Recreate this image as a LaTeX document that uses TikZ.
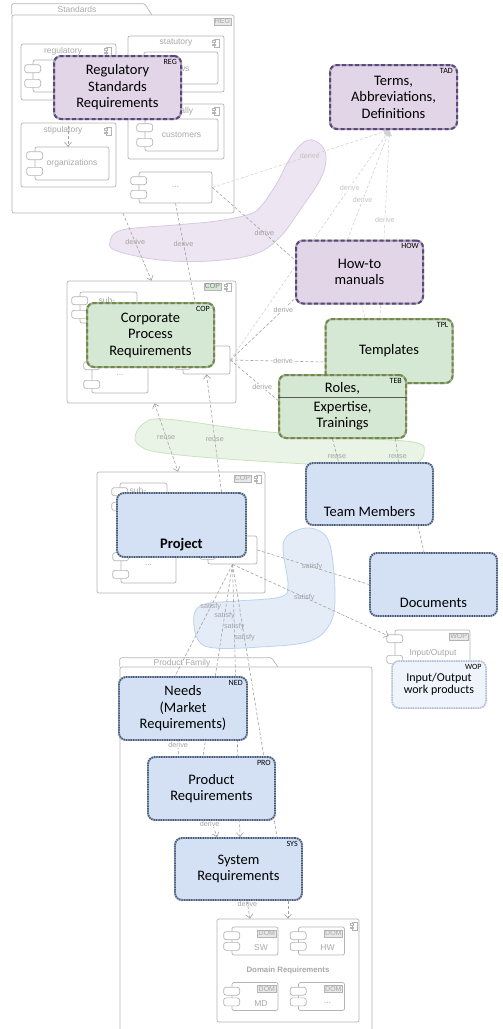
\documentclass[tikz,border=0pt]{standalone}
\usepackage{fontspec}
\setmainfont{Carlito}
\newfontfamily\grayfont{Liberation Sans}
\usetikzlibrary{arrows.meta,positioning}

\definecolor{structgray}{HTML}{B4B4B4}
\definecolor{textgray}{HTML}{A8A8A8}
\definecolor{taggray}{HTML}{E8E8E8}
\definecolor{linkgray}{HTML}{A2A2A2}
\definecolor{lightlinkgray}{HTML}{D2D2D2}
\definecolor{undergray}{HTML}{A6A6A6}
\definecolor{purpfill}{HTML}{E1D5E7}
\definecolor{purpdash}{HTML}{5B4586}
\definecolor{greenfill}{HTML}{D5E8D4}
\definecolor{greendash}{HTML}{6F8E3D}
\definecolor{bluefill}{HTML}{D4E1F5}
\definecolor{bluedot}{HTML}{395A8E}
\definecolor{wopfill}{HTML}{EFF4FC}
\definecolor{wopdot}{HTML}{A9BDE2}
\definecolor{purpblobfill}{HTML}{EDE5F2}
\definecolor{purpblobline}{HTML}{D6C9E2}
\definecolor{greenblobfill}{HTML}{EAF4E6}
\definecolor{greenblobline}{HTML}{C8E2BC}
\definecolor{blueblobfill}{HTML}{E4ECF8}
\definecolor{blueblobline}{HTML}{BCD2EF}

\newcommand\reqfont{\fontsize{14.5}{16.5}\selectfont}
\newcommand\tagfont{\fontsize{8}{9}\selectfont}
\newcommand\grayfnt{\grayfont\fontsize{8.5}{10}\selectfont}
\newcommand\lblfont{\grayfont\fontsize{7.2}{8}\selectfont}
\newcommand\tdots{...}

\pgfdeclarelayer{blobs}
\pgfdeclarelayer{struct}
\pgfdeclarelayer{links}
\pgfsetlayers{blobs,struct,links,main}

\tikzset{
  frame/.style={draw=structgray, fill=white, line width=0.7pt, rounded corners=2pt,
    inner sep=0pt, font=\grayfnt, text=textgray},
  frameline/.style={draw=structgray, line width=0.7pt, rounded corners=1.5pt},
  comptab/.style={draw=structgray, fill=white, line width=0.7pt, rounded corners=2.5pt,
    minimum width=16pt, minimum height=8pt, inner sep=0pt},
  graytext/.style={font=\grayfnt, text=textgray, inner sep=0pt},
  graytag/.style={draw=structgray, fill=taggray, line width=0.6pt,
    font=\grayfont\fontsize{7}{8}\selectfont, text=textgray, inner sep=1pt},
  greentag/.style={graytag, fill=greenfill, text=gray},
  tagtext/.style={font=\tagfont, anchor=north east, inner sep=1pt, xshift=-4pt, yshift=-3pt},
  req/.style={rounded corners=7pt, align=center, inner sep=2pt, font=\reqfont,
    line width=2pt, draw=undergray, minimum width=127pt, minimum height=63pt},
  purplereq/.style={req, fill=purpfill,
    postaction={draw=purpdash, line width=2pt, dash pattern=on 4pt off 2.5pt}},
  greenreq/.style={req, fill=greenfill,
    postaction={draw=greendash, line width=2pt, dash pattern=on 4pt off 2.5pt}},
  bluereq/.style={req, fill=bluefill, line width=1.8pt,
    postaction={draw=bluedot, line width=1.8pt, dash pattern=on 1.2pt off 1.2pt}},
  wopreq/.style={req, fill=wopfill, draw=gray!25, line width=1.5pt,
    font=\fontsize{12}{12.5}\selectfont,
    postaction={draw=wopdot, line width=1.5pt, dash pattern=on 1.2pt off 1.2pt}},
  bottomtext/.style={anchor=base, yshift=9pt, inner sep=0pt, font=\reqfont},
  link/.style={draw=linkgray, line width=0.6pt, dash pattern=on 3pt off 2pt},
  lightlink/.style={link, draw=lightlinkgray},
  tri/.style={-{Triangle[length=6pt,width=5pt]}},
  lbl/.style={font=\lblfont, text=linkgray, inner sep=0.5pt},
  lblw/.style={lbl, fill=white},
  lbllight/.style={lbl, text=lightlinkgray!80!gray, fill=white},
  compicon/.pic={
    \draw[structgray, line width=0.5pt, fill=white] (-2,-4) rectangle (3.5,4);
    \draw[structgray, line width=0.5pt, fill=white] (-3.5,-2.6) rectangle (-0.5,-0.8);
    \draw[structgray, line width=0.5pt, fill=white] (-3.5,0.8) rectangle (-0.5,2.6);
  }
}

% two connector tabs on the left edge of a component
\newcommand{\comptabs}[1]{%
  \node[comptab] at ([yshift=-9pt]#1.north west) {};
  \node[comptab] at ([yshift=9pt]#1.south west) {};}

\begin{document}
\begin{tikzpicture}[x=1pt, y=-1pt, >={Straight Barb[length=4pt,width=7pt]}]
\useasboundingbox (0,0) rectangle (503,1029);

%% grey structure
\begin{pgfonlayer}{struct}
  % Standards package
  \node[frame, minimum width=222pt, minimum height=198pt] (stdbody) at (123,114) {};
  \draw[frameline] (stdbody.north west) -- ++(0,-11) -- ++(133,0) -- ++(7,11);
  \node[graytext] (stdtitle) at (77,9.5) {Standards};
  \node[graytag, anchor=north east] at ([shift={(-3pt,-3pt)}]stdbody.north east) {REG};

  \node[frame, minimum width=95pt, minimum height=56pt] (regcomp) at (68.5,72) {};
  \node[graytext] at (63,51) {regulatory};
  \pic at (108,51) {compicon};
  \node[frame, minimum width=72pt, minimum height=32pt] (regin) at (69,76) {};
  \comptabs{regin}

  \node[frame, minimum width=96pt, minimum height=56pt] (statcomp) at (176,64) {};
  \node[graytext] at (176,43) {statutory};
  \pic at (216,43) {compicon};
  \node[frame, minimum width=74pt, minimum height=32pt] (lawcomp) at (181,68) {laws};
  \comptabs{lawcomp}

  \node[frame, minimum width=96pt, minimum height=55pt] (gencomp) at (176,131.5) {};
  \node[graytext] at (176,111) {generally};
  \pic at (216,111) {compicon};
  \node[frame, minimum width=73pt, minimum height=32pt] (custcomp) at (181.5,135) {customers};
  \comptabs{custcomp}

  \node[frame, minimum width=95pt, minimum height=64pt] (stipcomp) at (68.5,155) {};
  \node[graytext] (stiptitle) at (63,130) {stipulatory};
  \pic at (108,131) {compicon};
  \node[frame, minimum width=74pt, minimum height=33pt] (orgcomp) at (72,163.5) {organizations};
  \comptabs{orgcomp}

  \node[frame, minimum width=73pt, minimum height=31pt] (dotscomp) at (175.5,187.5) {\tdots};
  \comptabs{dotscomp}

  % corporate process
  \node[frame, minimum width=169pt, minimum height=122pt] (copreg) at (151.5,342) {};
  \node[greentag, anchor=north east] at ([shift={(-15pt,-2pt)}]copreg.north east) {COP};
  \pic at (228,287) {compicon};
  \node[frame, minimum width=57pt, minimum height=31pt] (copsub) at (108.5,307.5) {};
  \node[graytext] at (107,300.5) {sub-};
  \comptabs{copsub}
  \node[frame, minimum width=56pt, minimum height=36pt] (copdots) at (120,375) {\tdots};
  \comptabs{copdots}
  \node[frame, minimum width=47pt, minimum height=28pt] (coprc) at (206.5,360) {};
  \comptabs{coprc}

  % project
  \node[frame, minimum width=168pt, minimum height=121pt] (projreg) at (181,532.5) {};
  \node[graytag, anchor=north east] at ([shift={(-14pt,-3pt)}]projreg.north east) {COP};
  \pic at (258,479) {compicon};
  \node[frame, minimum width=47pt, minimum height=32pt] (projsub) at (143.5,499) {};
  \node[graytext] at (138,490.5) {sub-};
  \comptabs{projsub}
  \node[frame, minimum width=55pt, minimum height=35pt] (projdots) at (148.5,565.5) {\tdots};
  \comptabs{projdots}
  \node[frame, minimum width=49pt, minimum height=28pt] (projrc) at (232.5,550) {};
  \comptabs{projrc}

  % input/output
  \node[frame, minimum width=75pt, minimum height=38pt] (wopcomp) at (432.5,649) {};
  \node[graytext] at (433,653) {Input/Output};
  \node[graytag, anchor=north east] at ([shift={(-2pt,-3pt)}]wopcomp.north east) {WOP};
  \comptabs{wopcomp}

  % Product Family package
  \node[frame, minimum width=252pt, minimum height=380pt] (pfbody) at (246,857) {};
  \draw[frameline] (pfbody.north west) -- ++(0,-9) -- ++(152,0) -- ++(6,9);
  \node[graytext] at (182,663) {Product Family};

  % domain requirements
  \node[frame, minimum width=142pt, minimum height=103pt,
    font=\grayfont\bfseries\fontsize{7.8}{9}\selectfont] (domain) at (288,970.5) {Domain Requirements};
  \pic at (354,926) {compicon};
  \node[frame, minimum width=46pt, minimum height=28pt] (swcomp) at (255,941) {};
  \node[frame, minimum width=46pt, minimum height=28pt] (hwcomp) at (321.5,941) {};
  \node[frame, minimum width=46pt, minimum height=28pt] (mdcomp) at (255,996.5) {};
  \node[frame, minimum width=46pt, minimum height=28pt] (morecomp) at (321.5,996.5) {};
  \foreach \c/\t in {swcomp/SW, hwcomp/HW, mdcomp/MD, morecomp/\tdots} {
    \node[graytag, anchor=north east] at ([shift={(-2pt,-3pt)}]\c.north east) {DOM};
    \node[graytext] at ([shift={(6pt,-7pt)}]\c.center) {\t};
    \comptabs{\c}
  }
\end{pgfonlayer}

%% requirement nodes
\node[purplereq, label={[tagtext]north east:REG}] (reg) at (117.5,87.5) {Regulatory\\Standards\\Requirements};
\node[purplereq, minimum height=64pt, label={[tagtext]north east:TAD}] (tad) at (393.5,97) {Terms,\\Abbreviations,\\Definitions};
\node[purplereq, label={[tagtext]north east:HOW}] (howto) at (359.5,272) {How-to\\manuals};
\node[greenreq, minimum height=64pt, label={[tagtext]north east:TPL}] (tpl) at (389,351) {Templates};
\node[greenreq, label={[tagtext]north east:TEB}] (teb) at (342.5,406.5) {Roles,\\[2pt]Expertise,\\Trainings};
\draw[black!65, line width=0.8pt] ([yshift=9.5pt]teb.west) -- ([yshift=9.5pt]teb.east);
\node[greenreq, minimum height=64pt, label={[tagtext]north east:COP}] (cop) at (150.5,335) {Corporate\\Process\\Requirements};
\node[bluereq, minimum width=129pt, minimum height=64pt,
  label={[bottomtext, font=\reqfont\bfseries]south:Project}] (project) at (181.5,525) {};
\node[bluereq, minimum height=62pt, label={[bottomtext]south:Team Members}] (team) at (369.5,494) {};
\node[bluereq, label={[bottomtext]south:Documents}] (docs) at (433.5,584.5) {};
\node[wopreq, minimum width=94pt, minimum height=47pt, label={[tagtext]north east:WOP}] (wop) at (439,684.5) {Input/Output\\work products};
\node[bluereq, minimum width=128pt, label={[tagtext]north east:NED}] (needs) at (183,708.5) {Needs\\(Market\\Requirements)};
\node[bluereq, label={[tagtext]north east:PRO}] (product) at (211.5,788.5) {Product\\Requirements};
\node[bluereq, minimum height=62pt, label={[tagtext]north east:SYS}] (system) at (238.5,869) {System\\Requirements};

%% connectors
\begin{pgfonlayer}{links}
  \draw[link, ->] ([xshift=5pt]stiptitle.north) -- ([xshift=-4pt]orgcomp.north);
  \draw[link, ->] (stdbody.south) -- node[lbl, pos=0.43] {derive} (copreg.north);
  \draw[link] (dotscomp.south) -- node[lbl, pos=0.41] {derive} ([xshift=44.5pt]cop.north);
  \draw[lightlink, tri] (dotscomp.east) -- node[lbl, text=lightlinkgray!80!gray, pos=0.55] {derive} ([xshift=-4pt]tad.south);
  \draw[link] (dotscomp.east) -- node[lbl, pos=0.63] {derive} ([yshift=12pt]howto.west);
  \draw[link] (coprc.east) -- node[lblw, pos=0.82] {derive} ([yshift=6pt]howto.south west);
  \draw[lightlink, tri] (coprc.east) -- node[lbllight, pos=0.75] {derive} ([xshift=-4pt]tad.south);
  \draw[lightlink, tri] ([xshift=-12pt]howto.north) -- node[lbllight, pos=0.36] {derive} ([xshift=-4pt]tad.south);
  \draw[lightlink, tri] ([xshift=-9pt]tpl.north) -- node[lbllight, pos=0.52] {derive} ([xshift=-4pt]tad.south);
  \draw[lightlink] ([xshift=2pt]howto.south) -- ([xshift=-24pt]tpl.north);
  \draw[link] (coprc.east) -- node[lblw, pos=0.56] {derive} ([yshift=-11pt]tpl.west);
  \draw[link] (coprc.east) -- node[lblw, pos=0.67] {derive} ([yshift=6pt]teb.west);
  \draw[link, <->] ([xshift=3pt]copreg.south) -- node[lbl, pos=0.5] {reuse} ([xshift=-3pt]projreg.north);
  \draw[link, ->] ([xshift=40pt]project.north) -- node[lbl, pos=0.45] {reuse} (coprc.south);
  \draw[link] ([xshift=-10pt]teb.south) -- node[lbl, pos=0.75] {reuse} ([xshift=-31pt]team.north);
  \draw[link] ([xshift=53pt]teb.south) -- node[lbl, pos=0.75] {reuse} ([xshift=29pt]team.north);
  \draw[link] ([xshift=48.5pt]team.south) -- ([xshift=-9.5pt]docs.north);
  \draw[link] (projrc.east) -- node[lbl, pos=0.49] {satisfy} (docs.west);
  \draw[link, ->] (projrc.south) -- node[lbl, pos=0.46] {satisfy} ([shift={(-6pt,13pt)}]wopcomp.west);
  \draw[link] (projrc.south) -- node[lbl, pos=0.38] {satisfy} ([xshift=-8pt]needs.north);
  \draw[link] (projrc.south) -- node[lbl, pos=0.27] {satisfy} ([xshift=-8.5pt]product.north);
  \draw[link, ->] (projrc.south) -- node[lbl, pos=0.23] {satisfy} ([xshift=1.5pt]system.north);
  \draw[link] (projrc.south) -- node[lbl, pos=0.27] {satisfy} ([xshift=38.5pt]system.north);
  \draw[link] ([xshift=-5pt]needs.south) -- node[lblw, pos=0.25] {derive} ([xshift=-33pt]product.north);
  \draw[link, ->] (product.south) -- node[lblw, pos=0.2, xshift=-3pt] {derive} ([xshift=-21.5pt]system.north);
  \draw[link, ->] ([xshift=8.5pt]system.south) -- node[lbl, pos=0.15] {derive} ([xshift=-38pt]domain.north);
  \draw[link, ->] ([xshift=49.5pt]system.south) -- (domain.north);
\end{pgfonlayer}

%% grouping shapes
\begin{pgfonlayer}{blobs}
  \draw[draw=purpblobline, fill=purpblobfill, line width=0.8pt] plot[smooth cycle, tension=0.6] coordinates
    {(110,242) (122,230) (175,225) (217,221) (250,214) (262,205) (277,183) (292,155) (308,140)
     (322,146) (326,160) (320,180) (300,210) (280,237) (255,254) (210,261) (160,260) (117,251)};
  \draw[draw=greenblobline, fill=greenblobfill, line width=0.8pt] plot[smooth cycle, tension=0.6] coordinates
    {(135,437) (143,424) (165,419) (250,430) (330,437) (413,442) (424,453) (415,464)
     (390,466) (327,465) (213,458) (157,452) (140,446)};
  \draw[draw=blueblobline, fill=blueblobfill, line width=0.8pt] plot[smooth cycle, tension=0.6] coordinates
    {(283,545) (295,531) (315,529) (330,545) (335,600) (328,627) (307,642) (260,647) (215,648)
     (198,640) (194,615) (205,604) (237,601) (280,597) (288,585)};
\end{pgfonlayer}
\end{tikzpicture}
\end{document}
